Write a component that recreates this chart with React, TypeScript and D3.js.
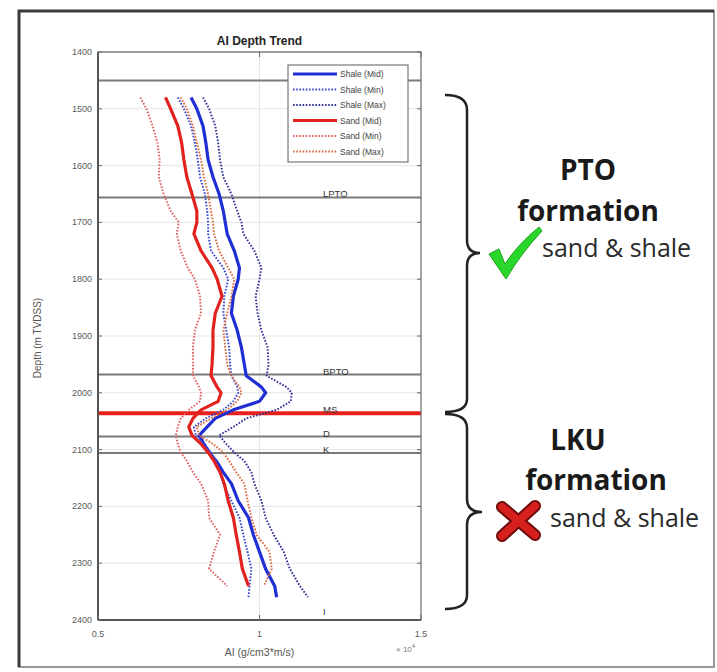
import React from 'react';
import * as d3 from 'd3';

// depth samples (m TVDSS) shared by all six curves
const depths = [1480, 1500, 1530, 1560, 1590, 1620, 1650, 1680, 1700, 1720, 1750, 1780, 1800, 1830, 1860, 1890, 1920, 1950, 1970, 1990,
  2000, 2015, 2030, 2045, 2060, 2075, 2090, 2105, 2120, 2140, 2160, 2190, 2220, 2250, 2280, 2310, 2340, 2360];

// acoustic impedance (g/cm3*m/s)
const shaleMid = [7880, 8060, 8250, 8340, 8410, 8560, 8750, 8880, 8940, 9000, 9220, 9380, 9340, 9190, 9130, 9310, 9440, 9530, 9590, 10060,
  10190, 10000, 9190, 8630, 8380, 8130, 8280, 8440, 8660, 8880, 9130, 9340, 9660, 9810, 10000, 10190, 10470, 10530];
const shaleMin = [7470, 7660, 7880, 8000, 8090, 8160, 8310, 8380, 8410, 8410, 8500, 8880, 9030, 8910, 8880, 8970, 9060, 9090, 9130, 9310,
  9340, 9190, 8880, 8340, 7970, 8030, 8280, 8500, 8660, 8780, 8880, 9130, 9380, 9500, 9630, 9750, 9690, 9660];
const shaleMax = [8250, 8440, 8630, 8720, 8780, 8880, 9130, 9310, 9440, 9500, 9840, 10060, 10000, 9880, 9940, 10060, 10250, 10280, 10220, 10840,
  11000, 10970, 10530, 9590, 9190, 8750, 8970, 9220, 9530, 9750, 9840, 10060, 10190, 10440, 10750, 10940, 11250, 11500];
const sandMid = [7090, 7250, 7470, 7590, 7660, 7750, 7910, 8060, 8060, 7970, 8190, 8530, 8690, 8840, 8630, 8560, 8560, 8530, 8500, 8690,
  8810, 8720, 8190, 7940, 7810, 7910, 8190, 8410, 8590, 8780, 8910, 9030, 9190, 9280, 9380, 9470, 9660, null];
const sandMin = [6310, 6500, 6690, 6840, 6910, 6880, 7030, 7250, 7500, 7440, 7560, 7780, 8000, 8160, 8190, 8000, 7940, 7940, 7940, 8130,
  8190, 8160, 7810, 7560, 7470, 7410, 7470, 7560, 7750, 7940, 8190, 8410, 8440, 8780, 8590, 8440, 9000, null];
const sandMax = [7560, 7750, 7940, 8060, 8190, 8280, 8410, 8500, 8560, 8590, 8750, 9030, 9220, 9130, 9000, 8880, 8940, 9000, 9130, 9380,
  9440, 9310, 9000, 8500, 8060, 8130, 8560, 8880, 9060, 9280, 9530, 9630, 9750, 9910, 10310, 10380, 10130, null];

const legendLabels = ['Shale (Mid)', 'Shale (Min)', 'Shale (Max)', 'Sand (Mid)', 'Sand (Min)', 'Sand (Max)'];

const horizonNames = ['', 'LPTO', 'BPTO', 'MS', 'D', 'K', 'I'];
const horizonDepths = [1450, 1656, 1968, 2036, 2077, 2106, 2400];

const yTicks = [1400, 1500, 1600, 1700, 1800, 1900, 2000, 2100, 2200, 2300, 2400];
const xTicks = [5000, 10000, 15000];
const xTickLabels = ['0.5', '1', '1.5'];

const W = 717;
const H = 672;
const plot = { left: 98, right: 421, top: 52, bottom: 620 };

const x = d3.scaleLinear().domain([5000, 15000]).range([plot.left, plot.right]);
const y = d3.scaleLinear().domain([1400, 2400]).range([plot.top, plot.bottom]);

const series = [
  { values: shaleMid, color: '#1f2fd4', width: 3.2, dash: '' },
  { values: shaleMin, color: '#3b4ad0', width: 2, dash: '1.6,1.6' },
  { values: shaleMax, color: '#35359a', width: 2, dash: '1.6,1.6' },
  { values: sandMid, color: '#e2221e', width: 3.2, dash: '' },
  { values: sandMin, color: '#e06464', width: 2, dash: '1.6,1.6' },
  { values: sandMax, color: '#dc6a3e', width: 2, dash: '1.6,1.6' },
];

const line = d3.line<number | null>()
  .defined(v => v != null)
  .x(v => x(v as number))
  .y((_, i) => y(depths[i]));

const axisFont = '"Liberation Sans", Arial, sans-serif';
const noteFont = '"Open Sans", "DejaVu Sans", sans-serif';

export default function App() {
  const legendX = 288;
  const legendY = 65;
  const rowH = 15.5;

  return (
    <div style={{ position: 'absolute', left: 0, top: 0 }}>
      <svg width={W} height={H} style={{ display: 'block', background: '#fff' }}>
        {/* outer frame */}
        <rect x={19} y={11} width={695} height={656} fill="none" stroke="#9a9a9a" strokeWidth={2} />
        <path d="M19,667 L19,11 L714,11" fill="none" stroke="#3a3a3a" strokeWidth={3} />

        {/* grid */}
        {yTicks.map(t => (
          <line key={'gy' + t} x1={plot.left} x2={plot.right} y1={y(t)} y2={y(t)} stroke="#e6e6e6" strokeWidth={1} />
        ))}
        <line x1={x(10000)} x2={x(10000)} y1={plot.top} y2={plot.bottom} stroke="#e6e6e6" strokeWidth={1} />

        {/* horizons */}
        {horizonDepths.map((d, i) => (
          <g key={'h' + i}>
            {d < 2400 && (
              <line x1={plot.left} x2={plot.right} y1={y(d)} y2={y(d)}
                stroke={horizonNames[i] === 'MS' ? '#e8201c' : '#7a7a7a'}
                strokeWidth={horizonNames[i] === 'MS' ? 4 : 2} />
            )}
            {horizonNames[i] && (
              <text x={323} y={y(d) - (d === 2400 ? 5 : 0)} fontSize={9.5} fontFamily={axisFont} fill="#333">{horizonNames[i]}</text>
            )}
          </g>
        ))}

        {/* curves */}
        {series.map((s, i) => (
          <path key={'s' + i} d={line(s.values) || ''} fill="none" stroke={s.color} strokeWidth={s.width}
            strokeDasharray={s.dash || undefined} strokeLinejoin="round" />
        ))}

        {/* axes box */}
        <rect x={plot.left} y={plot.top} width={plot.right - plot.left} height={plot.bottom - plot.top}
          fill="none" stroke="#6a6a6a" strokeWidth={1.2} />
        <line x1={plot.left} x2={plot.left} y1={plot.top} y2={plot.bottom} stroke="#555" strokeWidth={2} />
        <line x1={plot.left} x2={plot.right} y1={plot.bottom} y2={plot.bottom} stroke="#555" strokeWidth={2} />

        {yTicks.map(t => (
          <g key={'yt' + t}>
            <line x1={plot.left} x2={plot.left + 4} y1={y(t)} y2={y(t)} stroke="#666" />
            <line x1={plot.right} x2={plot.right - 4} y1={y(t)} y2={y(t)} stroke="#666" />
            <text x={plot.left - 6} y={y(t) + 3} textAnchor="end" fontSize={9} fontFamily={axisFont} fill="#5a5a5a">{t}</text>
          </g>
        ))}
        {xTicks.map((t, i) => (
          <g key={'xt' + t}>
            <line x1={x(t)} x2={x(t)} y1={plot.bottom} y2={plot.bottom - 5} stroke="#666" />
            <line x1={x(t)} x2={x(t)} y1={plot.top} y2={plot.top + 5} stroke="#666" />
            <text x={x(t)} y={plot.bottom + 17} textAnchor="middle" fontSize={9} fontFamily={axisFont} fill="#5a5a5a">{xTickLabels[i]}</text>
          </g>
        ))}

        <text x={(plot.left + plot.right) / 2} y={plot.top - 7} textAnchor="middle" fontSize={12} fontWeight="bold"
          fontFamily={axisFont} fill="#222">AI Depth Trend</text>
        <text x={(plot.left + plot.right) / 2} y={656} textAnchor="middle" fontSize={10.5} fontFamily={axisFont} fill="#555">AI (g/cm3*m/s)</text>
        <text x={396} y={652} fontSize={8} fontFamily={axisFont} fill="#777">× 10<tspan dy={-4} fontSize={6}>4</tspan></text>
        <text transform={`translate(41,338) rotate(-90)`} textAnchor="middle" fontSize={10} fontFamily={axisFont} fill="#555">Depth (m TVDSS)</text>

        {/* legend */}
        <rect x={legendX} y={legendY} width={120} height={rowH * 6 + 4} fill="#fff" stroke="#777" strokeWidth={1.2} />
        {legendLabels.map((lab, i) => {
          const s = series[i];
          const ly = legendY + 9 + i * rowH;
          return (
            <g key={'lg' + i}>
              <line x1={legendX + 5} x2={legendX + 49} y1={ly} y2={ly} stroke={s.color} strokeWidth={s.width}
                strokeDasharray={s.dash || undefined} />
              <text x={legendX + 52} y={ly + 3} fontSize={8.5} fontFamily={axisFont} fill="#444">{lab}</text>
            </g>
          );
        })}

        {/* braces */}
        <path d="M445,95 Q467,95 467,110 L467,240 Q467,253 480,253 Q467,253 467,266 L467,399 Q467,412 445,412"
          fill="none" stroke="#222" strokeWidth={2.5} />
        <path d="M445,414 Q467,414 467,428 L467,499 Q467,512 482,512 Q467,512 467,525 L467,595 Q467,609 445,609"
          fill="none" stroke="#222" strokeWidth={2.5} />

        {/* check mark */}
        <path d="M489,254 L499,249 L505,264 Q518,244 539,227 L542,231 Q522,252 506,279 Z"
          fill="#2bd62b" stroke="#17a317" strokeWidth={1} strokeLinejoin="round" />

        {/* red cross */}
        <g strokeLinecap="round">
          <line x1={502} y1={507} x2={535} y2={535} stroke="#6e0b0b" strokeWidth={12} />
          <line x1={535} y1={506} x2={502} y2={536} stroke="#6e0b0b" strokeWidth={12} />
          <line x1={502} y1={507} x2={535} y2={535} stroke="#d6201e" strokeWidth={8} />
          <line x1={535} y1={506} x2={502} y2={536} stroke="#d6201e" strokeWidth={8} />
        </g>

        <g fontFamily={noteFont} fill="#1a1a1a">
          <text x={588} y={180} textAnchor="middle" fontSize={28} fontWeight="bold">PTO</text>
          <text x={588} y={221} textAnchor="middle" fontSize={28} fontWeight="bold">formation</text>
          <text x={542} y={257} fontSize={25} fill="#2a2a2a">sand &amp; shale</text>
          <text x={578} y={450} textAnchor="middle" fontSize={28} fontWeight="bold">LKU</text>
          <text x={596} y={490} textAnchor="middle" fontSize={28} fontWeight="bold">formation</text>
          <text x={550} y={527} fontSize={25} fill="#2a2a2a">sand &amp; shale</text>
        </g>
      </svg>
    </div>
  );
}
